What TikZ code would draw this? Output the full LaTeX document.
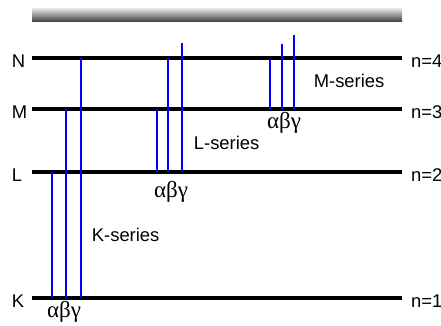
\documentclass[tikz,border=0pt]{standalone}
\usepackage{fontspec}
\setmainfont{Liberation Sans}
\newfontfamily\greekfont{Liberation Serif}
\begin{document}
\begin{tikzpicture}[x=1pt,y=-1pt,
  level/.style={line width=3.2pt,black},
  trans/.style={line width=1.8pt,blue},
  lbl/.style={inner sep=0pt,anchor=base west,font=\fontsize{18.4}{20}\selectfont},
  grk/.style={inner sep=0pt,anchor=base,font=\greekfont\fontsize{23}{24}\selectfont}]
\useasboundingbox (0,0) rectangle (441,325);
% gradient bar
\shade[top color=black!8,bottom color=black!72] (32,8) rectangle (402,21);
% levels
\foreach \y/\nm/\n in {58/N/4,109/M/3,172/L/2,298/K/1}{
  \draw[level] (32,\y) -- (402,\y);
  \node[lbl] at (11.6,\y+9.5) {\nm};
  \node[lbl] at (411,\y+9.5) {n=\n};
}
% K-series
\draw[trans] (52,172) -- (52,298);
\draw[trans] (66,109) -- (66,298);
\draw[trans] (81,58) -- (81,298);
% L-series
\draw[trans] (157,109) -- (157,172);
\draw[trans] (168,58) -- (168,172);
\draw[trans] (182,43) -- (182,172);
% M-series
\draw[trans] (270,59) -- (270,109);
\draw[trans] (282,44) -- (282,109);
\draw[trans] (294,35) -- (294,109);
% labels
\node[lbl] (ks) at (91.7,241) {K-series};
\node[lbl] (ls) at (193.7,149) {L-series};
\node[lbl] (ms) at (313.6,87) {M-series};
\node[grk] (ka) at (64,317) {αβγ};
\node[grk] (la) at (171,197) {αβγ};
\node[grk] (ma) at (284,128) {αβγ};
\end{tikzpicture}
\end{document}
